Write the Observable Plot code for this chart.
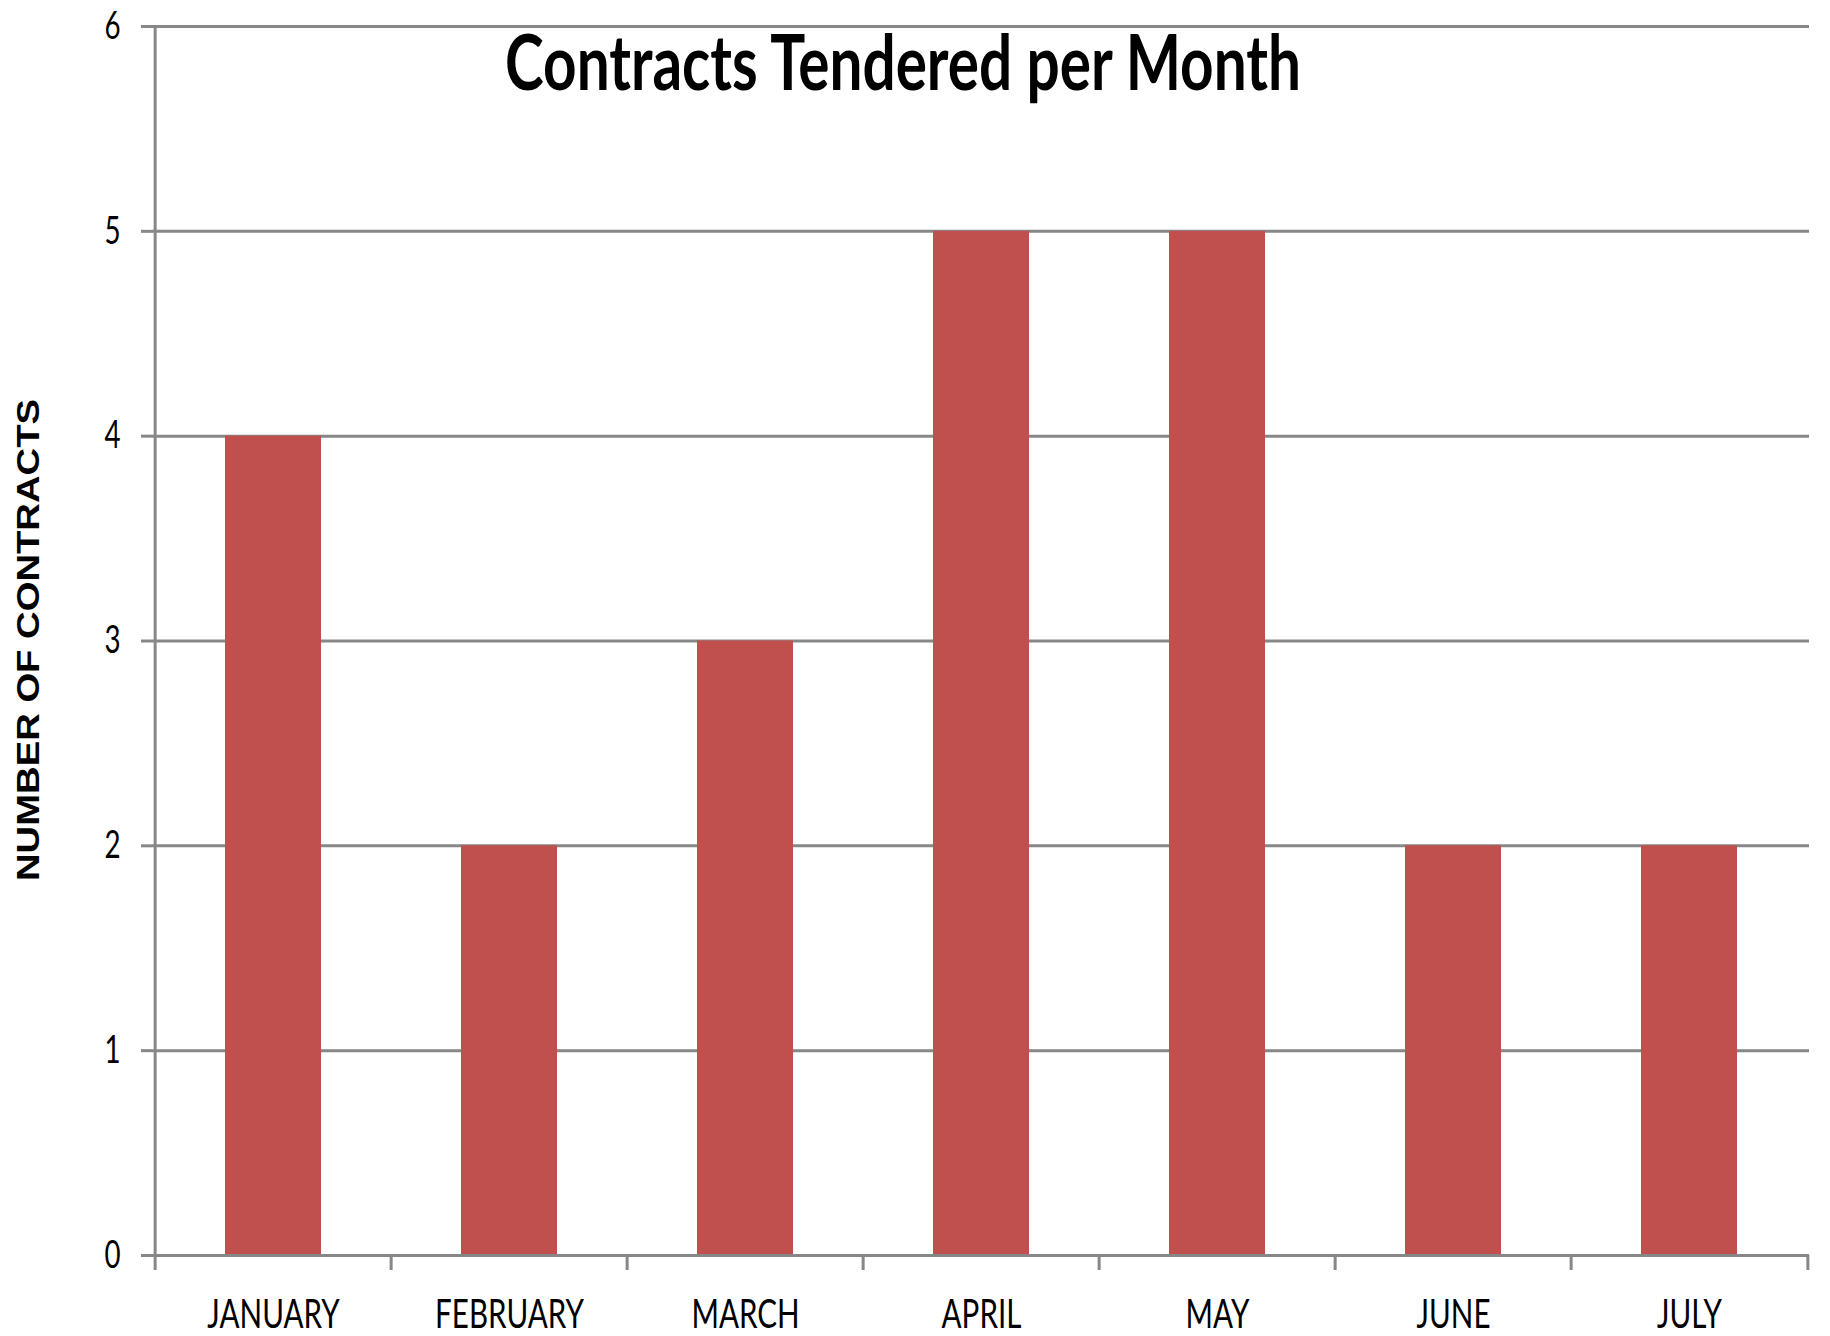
<!DOCTYPE html>
<html>
<head>
<meta charset="utf-8">
<script src="https://cdn.jsdelivr.net/npm/d3@7"></script>
<script src="https://cdn.jsdelivr.net/npm/@observablehq/plot@0.6"></script>
<style>
  html, body { margin: 0; padding: 0; background: white; }
  #chart { position: relative; width: 1830px; height: 1336px; }
</style>
</head>
<body>
<div id="chart"></div>
<script>
const months = ["JANUARY", "FEBRUARY", "MARCH", "APRIL", "MAY", "JUNE", "JULY"];
const contracts = [4, 2, 3, 5, 5, 2, 2];
const yTicks = [0, 1, 2, 3, 4, 5, 6];
const titleText = "Contracts Tendered per Month";
const yLabelText = "NUMBER OF CONTRACTS";

const data = months.map((m, i) => ({month: m, value: contracts[i]}));

const W = 1830, H = 1336, mL = 152, mR = 21, mT = 26, mB = 81;
const step = (W - mL - mR) / months.length;
const gray = "#878787";
const barColor = "#C0504D";

const svg = Plot.plot({
  width: W, height: H,
  marginLeft: mL, marginRight: mR, marginTop: mT, marginBottom: mB,
  style: {fontFamily: "Lato, 'Liberation Sans', sans-serif", background: "white", color: "black", overflow: "visible"},
  x: {type: "band", domain: months, paddingInner: 0.595, paddingOuter: 0.2975, label: null},
  y: {domain: [0, 6], label: null},
  marks: [
    Plot.gridY(yTicks, {stroke: gray, strokeOpacity: 1, strokeWidth: 3}),
    Plot.barY(data, {x: "month", y: "value", fill: barColor}),
    Plot.ruleY([0], {stroke: gray, strokeWidth: 3}),
    Plot.ruleX([months[0]], {dx: -step / 2, y1: 0, y2: 6, stroke: gray, strokeWidth: 3}),
    Plot.axisY(yTicks, {tickSize: 11, fill: "none", stroke: gray, strokeWidth: 3, label: null}),
    Plot.axisY(yTicks, {tickSize: 0, tickPadding: 32, fontSize: 38, fill: "black", tickFormat: d3.format("d"), label: null}),
    Plot.axisX(months, {tickSize: 15, fill: "none", dx: -step / 2, stroke: gray, strokeWidth: 3, label: null}),
    Plot.axisX([months[months.length - 1]], {tickSize: 15, fill: "none", dx: step / 2, stroke: gray, strokeWidth: 3, label: null}),
    Plot.axisX(months, {tickSize: 0, tickPadding: 44, fontSize: 40, fill: "black", label: null})
  ]
});

function squeeze(sel, sx) {
  svg.querySelectorAll(sel).forEach(t => {
    let tr = t.getAttribute("transform") || "";
    const xa = t.getAttribute("x");
    if (xa !== null && !isNaN(+xa)) {
      tr = tr + ` translate(${+xa},0)`;
      t.removeAttribute("x");
    }
    t.setAttribute("transform", (tr + ` scale(${sx},1)`).trim());
  });
}
squeeze('g[aria-label="x-axis tick label"] text', 0.74);
squeeze('g[aria-label="y-axis tick label"] text', 0.73);

const s = d3.select(svg);
s.append("text")
  .attr("x", 903).attr("y", 90)
  .attr("text-anchor", "middle")
  .attr("font-size", 76).attr("font-weight", "bold")
  .attr("fill", "black")
  .attr("textLength", 796).attr("lengthAdjust", "spacingAndGlyphs")
  .text(titleText);
s.append("text")
  .attr("transform", "translate(39,640) rotate(-90)")
  .attr("text-anchor", "middle")
  .attr("font-size", 31).attr("font-weight", "bold")
  .attr("font-family", "'Liberation Sans', Arial, sans-serif")
  .attr("fill", "black")
  .attr("textLength", 482).attr("lengthAdjust", "spacingAndGlyphs")
  .text(yLabelText);

document.getElementById("chart").appendChild(svg);
</script>
</body>
</html>
